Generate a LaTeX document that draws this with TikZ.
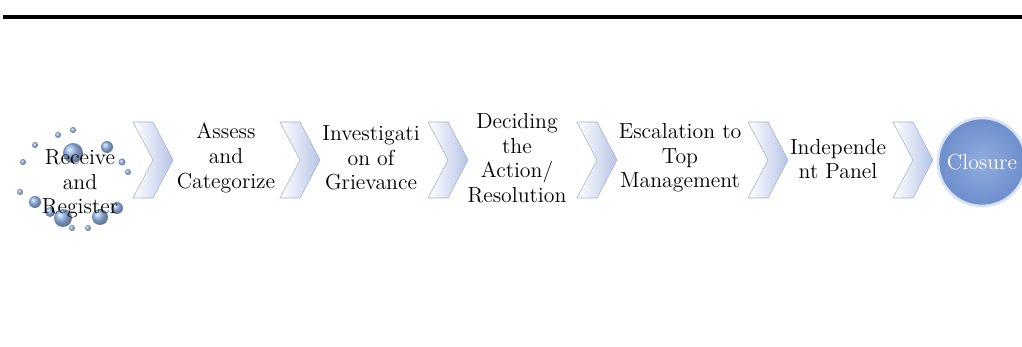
\documentclass[tikz,border=0pt]{standalone}
\usetikzlibrary{positioning}
\definecolor{chevfill}{RGB}{182,196,230}
\definecolor{bubblue}{RGB}{80,135,215}
\definecolor{closein}{RGB}{145,172,224}
\definecolor{closeout}{RGB}{108,142,204}

\tikzset{
  stage/.style={align=center, font=\fontsize{12.4}{14}\selectfont, inner sep=0pt},
  chevron/.style={left color=white, right color=chevfill, draw=chevfill!90!black, line width=0.3pt},
  bubble/.style={ball color=bubblue, opacity=0.7},
}

\begin{document}
\begin{tikzpicture}[x=0.02cm, y=-0.02cm]
    \useasboundingbox (0,0) rectangle (1022,347);

    % heading rule
    \draw[line width=4*0.02cm] (3,17) -- (1022,17);

    % bubbles round the first stage
    \foreach \bx/\by/\br in {58/135/3, 73/130/3, 35/145/3, 73/153/10, 107/147/6,
                             23/162/3, 122/162/3.5, 128/172/3, 20/192/3, 35/202/6,
                             117/208/6, 63/218/9, 100/217/8, 72/228/3, 88/228/3, 50/212/5}
        \shade[bubble] (\bx,\by) circle (\br);

    % chevrons between stages
    \foreach \x in {133,280,428,577,748,893}
        \draw[chevron] (\x,122) -- ++(20,0) -- ++(20,38) -- ++(-20,38)
                       -- ++(-20,0) -- ++(20,-38) -- cycle;

    \node[stage] (receive)  at (80,184)  {Receive\\and\\Register};
    \node[stage] (assess)   at (226,158) {Assess\\and\\Categorize};
    \node[stage] (invest)   at (371,158) {Investigati\\on of\\Grievance};
    \node[stage] (decide)   at (517,158) {Deciding\\the\\Action/\\Resolution};
    \node[stage] (escalate) at (680,158) {Escalation to\\Top\\Management};
    \node[stage] (panel)    at (838,159) {Independe\\nt Panel};

    \node[circle, minimum size=88*0.02cm, inner color=closein, outer color=closeout,
          draw=closein!35!white, line width=1.5pt] (closure) at (982,162) {};
    \node[stage, text=white] (closetext) at (closure) {Closure};
\end{tikzpicture}
\end{document}
